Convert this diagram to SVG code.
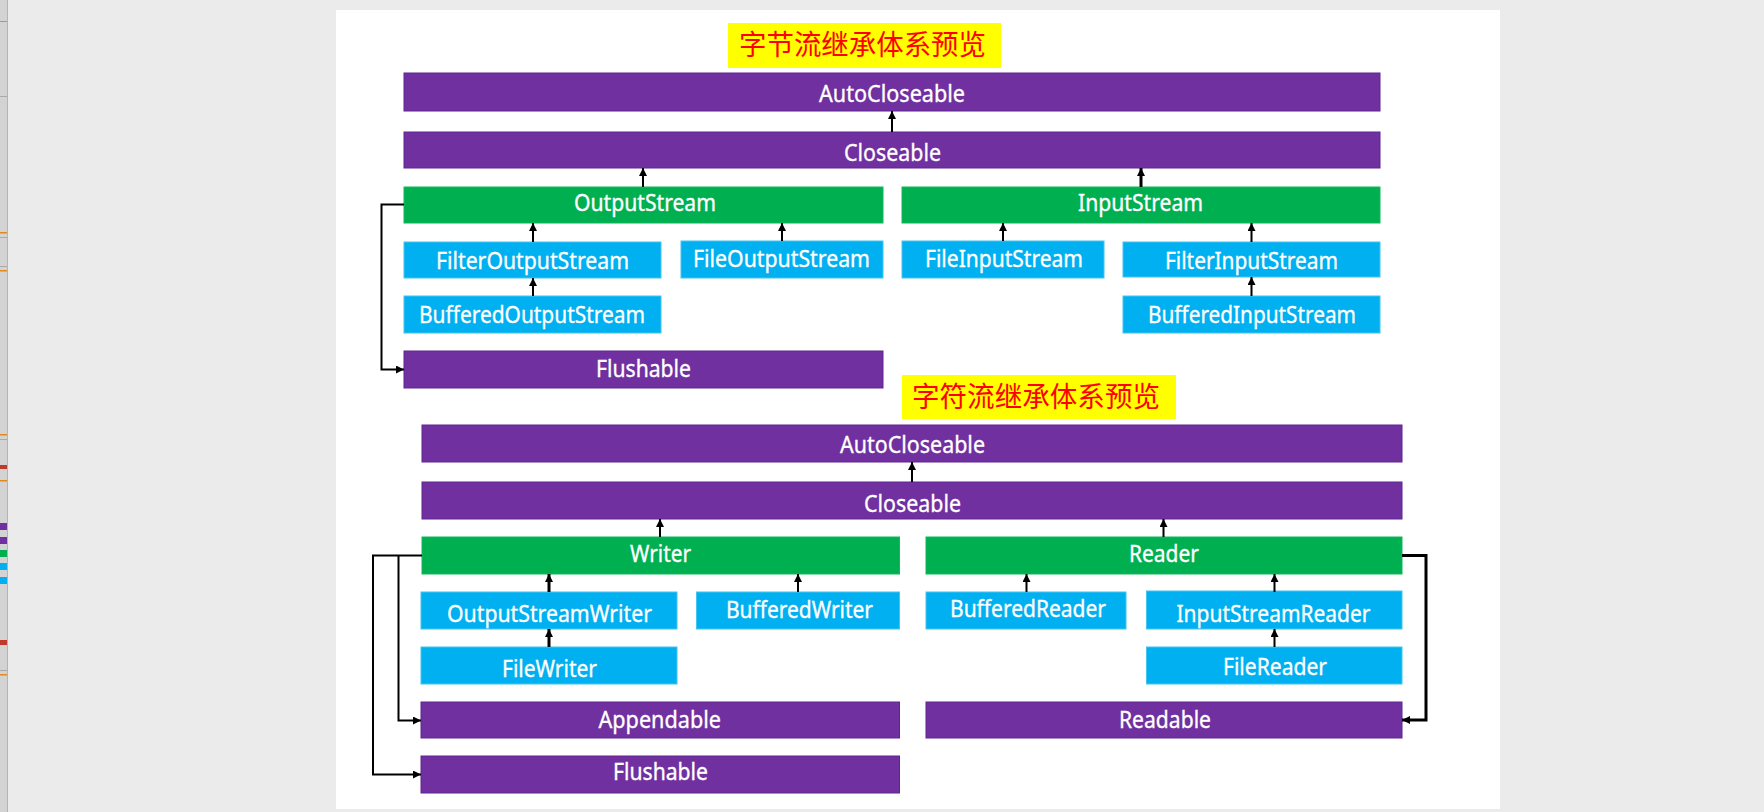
<svg xmlns="http://www.w3.org/2000/svg" width="1764" height="812" viewBox="0 0 1764 812">
  <style>
    .p { fill: #7030a0; stroke: #5f2590; stroke-width: 1; }
    .g { fill: #00b050; stroke: #12b85c; stroke-width: 1; }
    .b { fill: #00b0f0; stroke: #44c4f2; stroke-width: 1; }
    .lbl { fill: #ffffff; stroke: #ffffff; stroke-width: 0.35; font-family: "Noto Sans", "Open Sans", sans-serif; font-size: 24px; }
    .ttl { fill: #ff0000; font-family: "Noto Sans CJK SC", sans-serif; font-size: 28px; }
    .con { fill: none; stroke: #000000; stroke-width: 2; marker-end: url(#arr); }
    .thick { stroke-width: 3; }
  </style>
  <defs>
    <marker id="arr" markerUnits="userSpaceOnUse" markerWidth="8" markerHeight="8" refX="8" refY="4" orient="auto">
      <path d="M0,0 L8,4 L0,8 z" fill="#000000"/>
    </marker>
  </defs>

  <!-- window background and side strip -->
  <rect x="0" y="0" width="1764" height="812" fill="#ebebeb"/>
  <g id="sidebar">
    <rect x="0" y="0" width="8" height="812" fill="#d3d3d3"/>
    <rect x="7" y="0" width="1" height="812" fill="#b4b4b4"/>
    <rect x="0" y="21" width="7" height="1" fill="#9a9a9a"/>
    <rect x="0" y="96" width="7" height="1" fill="#aaaaaa"/>
    <rect x="0" y="232" width="7" height="1.5" fill="#e08a1e"/>
    <rect x="0" y="237" width="7" height="1" fill="#aaaaaa"/>
    <rect x="0" y="266" width="7" height="1" fill="#aaaaaa"/>
    <rect x="0" y="270" width="7" height="1.5" fill="#e08a1e"/>
    <rect x="0" y="434" width="7" height="1.5" fill="#e08a1e"/>
    <rect x="0" y="439" width="7" height="1" fill="#aaaaaa"/>
    <rect x="0" y="465" width="7" height="4" fill="#c0392b"/>
    <rect x="0" y="480" width="7" height="1.5" fill="#e08a1e"/>
    <rect x="0" y="523" width="7" height="7" fill="#7030a0"/>
    <rect x="0" y="537" width="7" height="7" fill="#7030a0"/>
    <rect x="0" y="550" width="7" height="7" fill="#00b050"/>
    <rect x="0" y="563" width="7" height="7" fill="#00b0f0"/>
    <rect x="0" y="577" width="7" height="7" fill="#00b0f0"/>
    <rect x="0" y="640" width="7" height="5" fill="#c0392b"/>
    <rect x="0" y="670" width="7" height="1" fill="#aaaaaa"/>
    <rect x="0" y="674" width="7" height="1.5" fill="#e08a1e"/>
  </g>

  <!-- page -->
  <rect x="336" y="10" width="1164" height="799" fill="#ffffff"/>

  <!-- titles -->
  <g id="title-byte">
    <rect x="728" y="23" width="273" height="45" fill="#ffff00"/>
    <text class="ttl" x="739" y="55" textLength="247" lengthAdjust="spacingAndGlyphs">字节流继承体系预览</text>
  </g>
  <g id="title-char">
    <rect x="902" y="375" width="274" height="44" fill="#ffff00"/>
    <text class="ttl" x="912" y="407" textLength="248" lengthAdjust="spacingAndGlyphs">字符流继承体系预览</text>
  </g>

  <!-- byte stream hierarchy -->
  <g id="b-autocloseable"><rect class="p" x="404" y="73" width="976" height="38"/><text class="lbl" x="819" y="101.5" textLength="146" lengthAdjust="spacingAndGlyphs">AutoCloseable</text></g>
  <g id="b-closeable"><rect class="p" x="404" y="132" width="976" height="36"/><text class="lbl" x="844" y="161" textLength="97" lengthAdjust="spacingAndGlyphs">Closeable</text></g>
  <g id="b-outputstream"><rect class="g" x="404" y="187" width="479" height="36"/><text class="lbl" x="574" y="210.5" textLength="142" lengthAdjust="spacingAndGlyphs">OutputStream</text></g>
  <g id="b-inputstream"><rect class="g" x="902" y="187" width="478" height="36"/><text class="lbl" x="1078" y="211" textLength="125" lengthAdjust="spacingAndGlyphs">InputStream</text></g>
  <g id="b-filteroutputstream"><rect class="b" x="404" y="242" width="257" height="36"/><text class="lbl" x="436" y="269" textLength="193" lengthAdjust="spacingAndGlyphs">FilterOutputStream</text></g>
  <g id="b-fileoutputstream"><rect class="b" x="681" y="241" width="202" height="37"/><text class="lbl" x="693" y="266.5" textLength="177" lengthAdjust="spacingAndGlyphs">FileOutputStream</text></g>
  <g id="b-fileinputstream"><rect class="b" x="902" y="241" width="202" height="37"/><text class="lbl" x="925" y="266.5" textLength="158" lengthAdjust="spacingAndGlyphs">FileInputStream</text></g>
  <g id="b-filterinputstream"><rect class="b" x="1123" y="242" width="257" height="35"/><text class="lbl" x="1165" y="268.5" textLength="173" lengthAdjust="spacingAndGlyphs">FilterInputStream</text></g>
  <g id="b-bufferedoutputstream"><rect class="b" x="404" y="296" width="257" height="37"/><text class="lbl" x="419" y="322.5" textLength="226" lengthAdjust="spacingAndGlyphs">BufferedOutputStream</text></g>
  <g id="b-bufferedinputstream"><rect class="b" x="1123" y="296" width="257" height="37"/><text class="lbl" x="1148" y="322.5" textLength="208" lengthAdjust="spacingAndGlyphs">BufferedInputStream</text></g>
  <g id="b-flushable"><rect class="p" x="404" y="351" width="479" height="37"/><text class="lbl" x="596" y="376.5" textLength="95" lengthAdjust="spacingAndGlyphs">Flushable</text></g>

  <!-- character stream hierarchy -->
  <g id="c-autocloseable"><rect class="p" x="422" y="425" width="980" height="37"/><text class="lbl" x="840" y="453" textLength="145" lengthAdjust="spacingAndGlyphs">AutoCloseable</text></g>
  <g id="c-closeable"><rect class="p" x="422" y="482" width="980" height="37"/><text class="lbl" x="864" y="511.5" textLength="97" lengthAdjust="spacingAndGlyphs">Closeable</text></g>
  <g id="c-writer"><rect class="g" x="422" y="537" width="477.5" height="37"/><text class="lbl" x="630" y="561.5" textLength="61" lengthAdjust="spacingAndGlyphs">Writer</text></g>
  <g id="c-reader"><rect class="g" x="926" y="537" width="476" height="37"/><text class="lbl" x="1129" y="561.5" textLength="70" lengthAdjust="spacingAndGlyphs">Reader</text></g>
  <g id="c-outputstreamwriter"><rect class="b" x="421" y="592" width="256" height="37"/><text class="lbl" x="447" y="621.5" textLength="205" lengthAdjust="spacingAndGlyphs">OutputStreamWriter</text></g>
  <g id="c-bufferedwriter"><rect class="b" x="696.5" y="592" width="203" height="37"/><text class="lbl" x="726" y="618" textLength="147" lengthAdjust="spacingAndGlyphs">BufferedWriter</text></g>
  <g id="c-bufferedreader"><rect class="b" x="926" y="592" width="200" height="37"/><text class="lbl" x="950" y="617" textLength="156" lengthAdjust="spacingAndGlyphs">BufferedReader</text></g>
  <g id="c-inputstreamreader"><rect class="b" x="1146.5" y="591" width="255.5" height="38"/><text class="lbl" x="1176.5" y="621.5" textLength="194" lengthAdjust="spacingAndGlyphs">InputStreamReader</text></g>
  <g id="c-filewriter"><rect class="b" x="421" y="647" width="256" height="37"/><text class="lbl" x="502" y="676.5" textLength="95" lengthAdjust="spacingAndGlyphs">FileWriter</text></g>
  <g id="c-filereader"><rect class="b" x="1146.5" y="647" width="255.5" height="37"/><text class="lbl" x="1223" y="675" textLength="104" lengthAdjust="spacingAndGlyphs">FileReader</text></g>
  <g id="c-appendable"><rect class="p" x="421" y="702" width="478.5" height="36"/><text class="lbl" x="598.5" y="728" textLength="122.5" lengthAdjust="spacingAndGlyphs">Appendable</text></g>
  <g id="c-readable"><rect class="p" x="926" y="702" width="476" height="36"/><text class="lbl" x="1119" y="728" textLength="92" lengthAdjust="spacingAndGlyphs">Readable</text></g>
  <g id="c-flushable"><rect class="p" x="421" y="756" width="478.5" height="37"/><text class="lbl" x="613" y="780" textLength="95" lengthAdjust="spacingAndGlyphs">Flushable</text></g>

  <!-- inheritance connectors -->
  <g id="connectors">
    <path class="con" d="M892 132 V111"/>
    <path class="con" d="M643 187 V168"/>
    <path class="con thick" d="M1141 187 V168"/>
    <path class="con" d="M533 242 V223"/>
    <path class="con" d="M533 296 V278"/>
    <path class="con" d="M782 241 V223"/>
    <path class="con" d="M1003 241 V223"/>
    <path class="con" d="M1251.5 242 V223"/>
    <path class="con" d="M1251.5 296 V277"/>
    <path class="con" d="M404 204.5 H381.5 V369.5 H404"/>

    <path class="con" d="M912 482 V462"/>
    <path class="con" d="M660 537 V519"/>
    <path class="con" d="M1163.5 537 V519"/>
    <path class="con thick" d="M549 592 V574"/>
    <path class="con thick" d="M549 647 V629"/>
    <path class="con" d="M798 592 V574"/>
    <path class="con" d="M1026.5 592 V574"/>
    <path class="con" d="M1274.5 592 V574"/>
    <path class="con" d="M1274.5 647 V629"/>
    <path class="con" d="M422 555.5 H373 V774.5 H421"/>
    <path class="con" d="M398.5 555.5 V720.5 H421"/>
    <path class="con thick" d="M1402 555.5 H1426 V720 H1402"/>
  </g>
</svg>
